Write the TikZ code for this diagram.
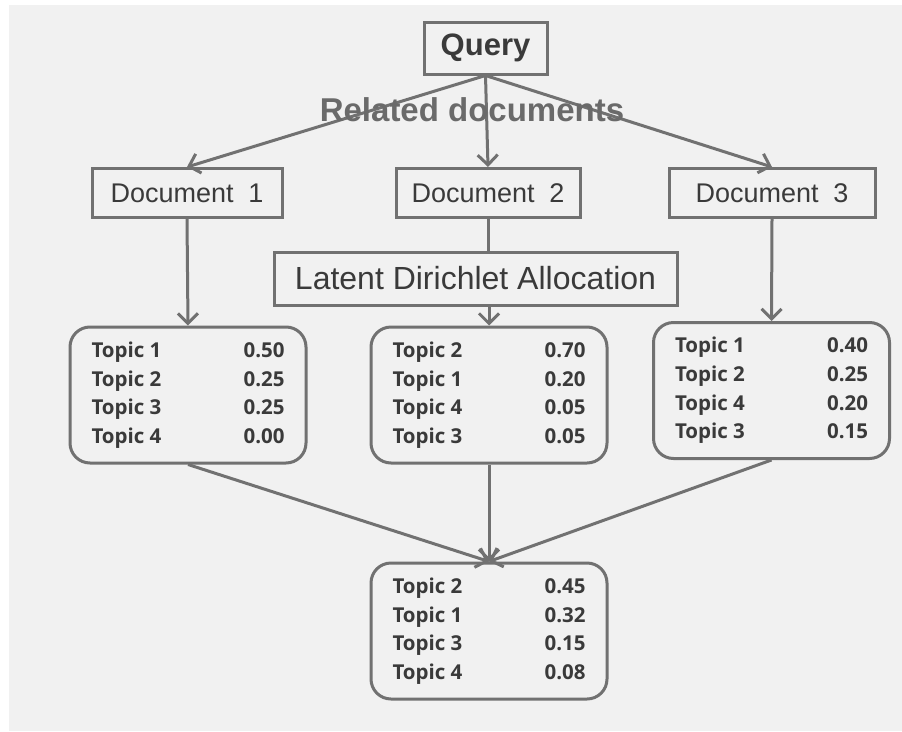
\documentclass[tikz,border=0pt]{standalone}
\usepackage{fontspec}
\setmainfont{Liberation Sans}
\newfontfamily\topicfont{Open Sans}
\usetikzlibrary{arrows.meta}
\definecolor{bgc}{HTML}{F1F1F1}
\definecolor{linec}{HTML}{717171}
\definecolor{inkc}{HTML}{3A3A3A}
\definecolor{labelc}{HTML}{6A6A6A}
% one row of a topic table: name on the left, weight on the right
\newcommand\topicrow[2]{\makebox[193pt]{#1\hfill#2}}

\begin{document}
\begin{tikzpicture}[x=1pt,y=-1pt,
  box/.style={draw=linec, line width=3pt, text=inkc, inner sep=0pt, fill=bgc},
  docbox/.style={box, minimum height=49pt, font=\fontsize{27}{30}\selectfont},
  topicbox/.style={box, rounded corners=20pt, minimum width=236pt, minimum height=136pt,
    align=center, font=\topicfont\bfseries\fontsize{20.5}{28.6}\selectfont},
  link/.style={draw=linec, line width=3pt},
  arr/.style={link, -{Straight Barb[length=10pt,width=20pt]}}]

% canvas
\useasboundingbox (0,0) rectangle (902,731);
\fill[white] (0,0) rectangle (902,731);
\fill[bgc] (9,5) rectangle (902,731);

% query and documents
\node[box, minimum width=123pt, minimum height=52pt,
      font=\bfseries\fontsize{31}{34}\selectfont] (query) at (485.5,48) {Query};
\node[docbox, minimum width=190pt] (doc1) at (187,193) {Document\hspace{.55em}1};
\node[docbox, minimum width=184pt] (doc2) at (488,193) {Document\hspace{.55em}2};
\node[docbox, minimum width=206pt] (doc3) at (772,193) {Document\hspace{.55em}3};

% topic model step
\node[box, minimum width=403pt, minimum height=53pt,
      font=\fontsize{32}{35}\selectfont] (lda) at (475.5,278.5) {Latent Dirichlet Allocation};

% per-document topic distributions
\node[topicbox] (t1) at (188,395) {%
  \topicrow{Topic 1}{0.50}\\\topicrow{Topic 2}{0.25}\\\topicrow{Topic 3}{0.25}\\\topicrow{Topic 4}{0.00}};
\node[topicbox] (t2) at (489,395) {%
  \topicrow{Topic 2}{0.70}\\\topicrow{Topic 1}{0.20}\\\topicrow{Topic 4}{0.05}\\\topicrow{Topic 3}{0.05}};
\node[topicbox] (t3) at (771.5,390.5) {%
  \topicrow{Topic 1}{0.40}\\\topicrow{Topic 2}{0.25}\\\topicrow{Topic 4}{0.20}\\\topicrow{Topic 3}{0.15}};

% combined distribution
\node[topicbox] (tf) at (489,631) {%
  \topicrow{Topic 2}{0.45}\\\topicrow{Topic 1}{0.32}\\\topicrow{Topic 3}{0.15}\\\topicrow{Topic 4}{0.08}};

% connectors
\draw[arr] (query.south) -- (doc1.north);
\draw[arr] (query.south) -- (doc2.north);
\draw[arr] (query.south) -- (doc3.north);
\draw[arr] (doc1.south) -- (t1.north);
\draw[link] (doc2.south) -- (doc2.south |- lda.north);
\draw[arr] (lda.south -| t2.north) -- (t2.north);
\draw[arr] (doc3.south) -- (t3.north);
\draw[arr] (t1.south) -- (tf.north);
\draw[arr] (t2.south) -- (tf.north);
\draw[arr] (t3.south) -- (tf.north);

% label over the query fan-out
\node[text=labelc, font=\bfseries\fontsize{33}{36}\selectfont, inner sep=0pt]
  (rel) at (472,110) {Related documents};
\end{tikzpicture}
\end{document}
